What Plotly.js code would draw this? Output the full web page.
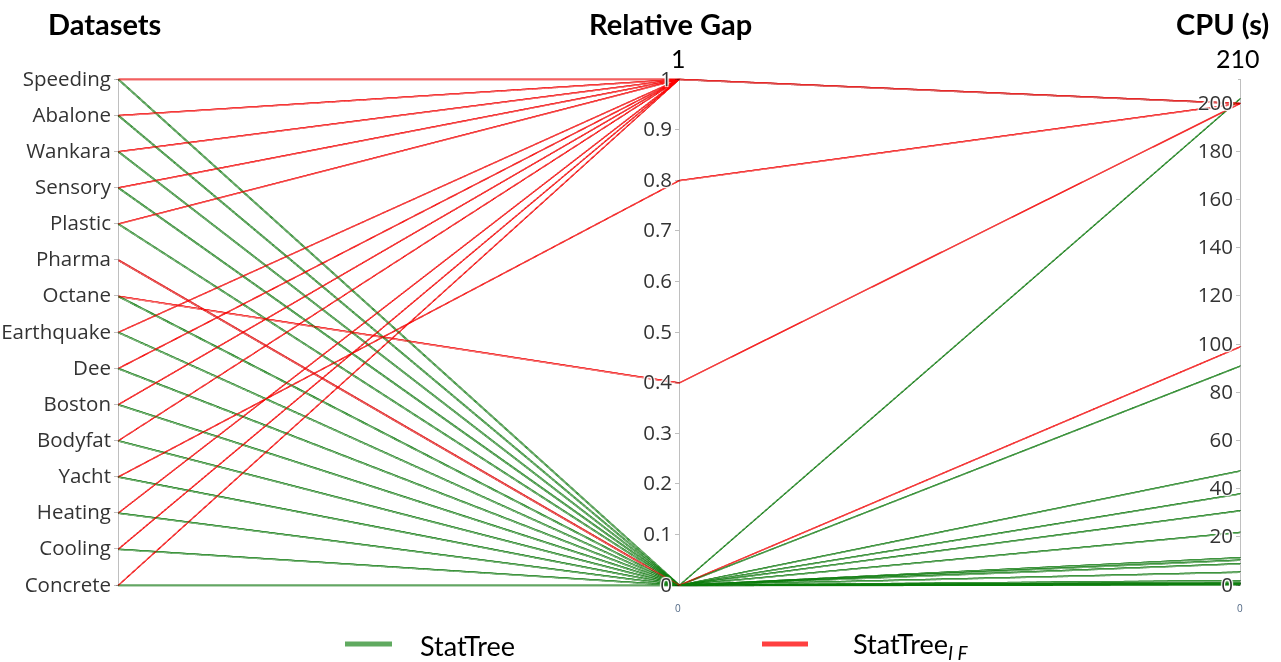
<!DOCTYPE html>
<html><head><meta charset="utf-8">
<script src="https://cdn.plot.ly/plotly-3.0.1.min.js"></script>
<style>
html,body{margin:0;padding:0;background:#fff}
.gl-canvas-context,.gl-canvas-focus{filter:url(#thick);}
</style>
</head><body>
<svg width="0" height="0" style="position:absolute">
  <filter id="thick" x="0" y="0" width="100%" height="100%" color-interpolation-filters="sRGB">
    <feOffset in="SourceGraphic" dx="1" dy="0" result="a"/>
    <feOffset in="SourceGraphic" dx="0" dy="1" result="b"/>
    <feMerge><feMergeNode in="a"/><feMergeNode in="b"/><feMergeNode in="SourceGraphic"/></feMerge>
  </filter>
</svg>
<div id="chart" style="width:1281px;height:662px"></div>
<script>
// Data
const datasets = ['Speeding','Abalone','Wankara','Sensory','Plastic','Pharma','Octane','Earthquake','Dee','Boston','Bodyfat','Yacht','Heating','Cooling','Concrete'];
const statTreeGap   = [0,0,0,0,0,0,0,0,0,0,0,0,0,0,0];
const statTreeCPU   = [202,91,47.5,38,31,22,11.5,10.5,9,5.5,2,1.2,0.8,0.5,0.2];
const statTreeIFGap = [1,1,1,1,1,0,0.4,1,1,1,1,0.8,1,1,1];
const statTreeIFCPU = [200,200,200,200,200,99,200,200,200,200,200,200,200,200,200];
const gapRange = [0, 1];
const cpuRange = [0, 210];
const seriesNames = ['StatTree','StatTree<sub><i>I F</i></sub>'];
const axisTitles = ['Datasets','Relative Gap','CPU (s)'];

const W = 1281, H = 662, ML = 118, MR = 41, MT = 77, MB = 75;
const px = x => (x - ML) / (W - ML - MR);
const py = y => (H - MB - y) / (H - MT - MB);

const n = datasets.length;
const dsIdx = datasets.map((_, i) => n - 1 - i);

const trace = {
  type: 'parcoords',
  line: {
    color: [...datasets.map(() => 0), ...datasets.map(() => 1)],
    colorscale: [[0, 'rgb(10,125,10)'], [1, 'rgb(255,0,0)']],
    cmin: 0, cmax: 1, showscale: false
  },
  tickfont: {family: 'Open Sans, sans-serif', size: 20.5, color: '#333'},
  rangefont: {family: 'Open Sans, sans-serif', size: 10, color: 'rgba(0,0,0,0)'},
  labelfont: {size: 1, color: 'rgba(0,0,0,0)'},
  dimensions: [
    {label: '', range: [0, n - 1], tickvals: dsIdx, ticktext: datasets, values: [...dsIdx, ...dsIdx]},
    {label: '', range: gapRange, tickformat: '~g', values: [...statTreeGap, ...statTreeIFGap]},
    {label: '', range: cpuRange, tickformat: '~g', values: [...statTreeCPU, ...statTreeIFCPU]}
  ]
};

const titleFont = {family: 'Lato, sans-serif', size: 29, color: '#000', weight: 'bold'};
const bigFont = {family: 'Lato, sans-serif', size: 25, color: '#000'};
const legFont = {family: 'Lato, sans-serif', size: 27, color: '#000'};
const smallFont = {family: 'Open Sans, sans-serif', size: 10, color: '#506784'};
const annotations = [
  {x: px(104), y: py(24), text: '<b>' + axisTitles[0] + '</b>', font: titleFont},
  {x: px(670), y: py(24), text: '<b>' + axisTitles[1] + '</b>', font: titleFont},
  {x: px(1222), y: py(24), text: '<b>' + axisTitles[2] + '</b>', font: titleFont},
  {x: px(678), y: py(58), text: String(gapRange[1]), font: bigFont},
  {x: px(1238), y: py(58), text: String(cpuRange[1]), font: bigFont},
  {x: px(678), y: py(608), text: String(gapRange[0]), font: smallFont},
  {x: px(1240), y: py(608), text: String(cpuRange[0]), font: smallFont},
  {x: px(418), y: py(645), xanchor: 'left', text: seriesNames[0], font: legFont},
  {x: px(851), y: py(645), xanchor: 'left', text: seriesNames[1], font: legFont}
].map(a => Object.assign({xref: 'paper', yref: 'paper', showarrow: false, xanchor: 'center', yanchor: 'middle'}, a));

const shapes = [
  {x0: px(345), x1: px(392), y0: py(644), y1: py(644), line: {color: 'rgb(96,170,96)', width: 5}},
  {x0: px(762), x1: px(808), y0: py(644), y1: py(644), line: {color: 'rgb(255,64,64)', width: 5}}
].map(s => Object.assign({type: 'line', xref: 'paper', yref: 'paper'}, s));

Plotly.newPlot('chart', [trace], {
  width: W, height: H,
  margin: {l: ML, r: MR, t: MT, b: MB, autoexpand: false},
  paper_bgcolor: '#fff', plot_bgcolor: '#fff',
  font: {family: 'Open Sans, sans-serif'},
  annotations, shapes
}, {displayModeBar: false});
</script></body></html>
